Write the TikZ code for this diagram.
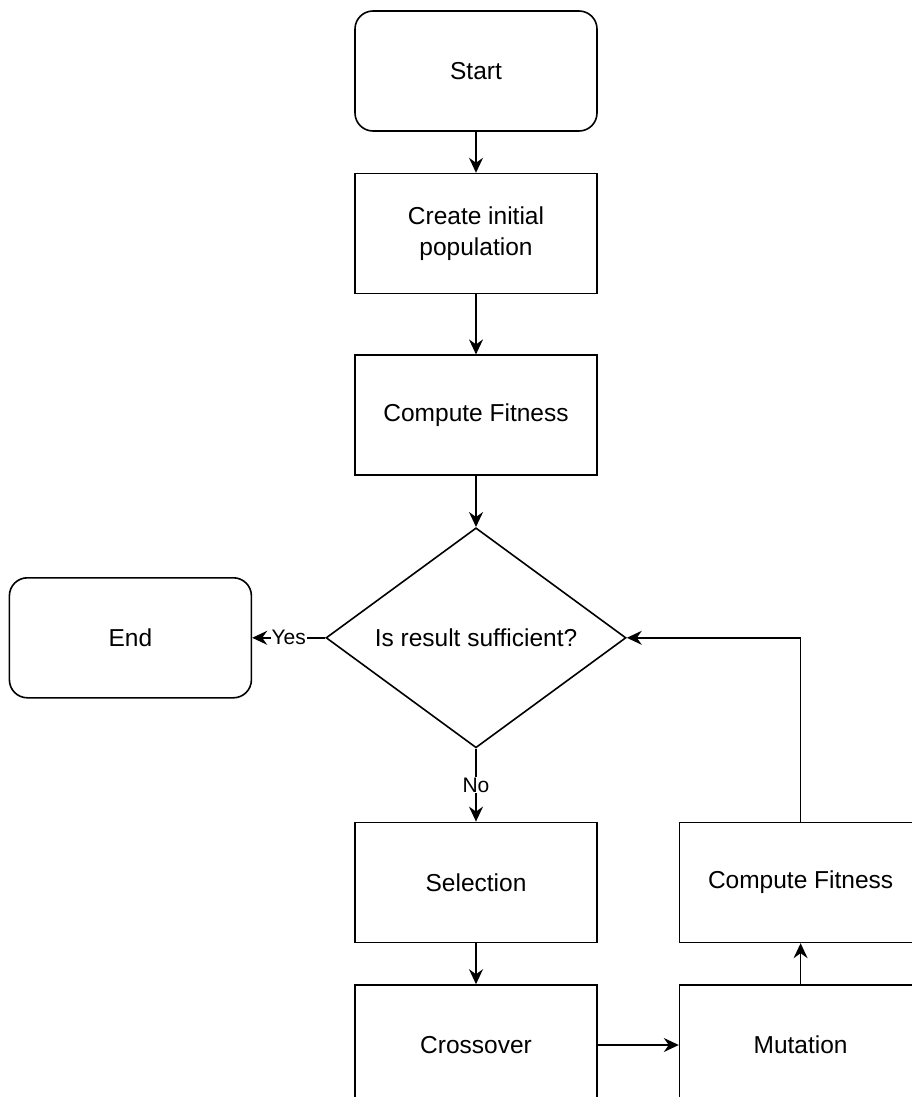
\documentclass[tikz,border=0pt]{standalone}
\usepackage{fontspec}
\setmainfont{Liberation Sans}
\usetikzlibrary{arrows.meta,positioning,shapes.geometric}

\begin{document}
\begin{tikzpicture}[
    x=1pt, y=-1pt,
    font=\fontsize{24.5}{31}\selectfont,
    node distance=41pt and 81pt,
    block/.style={draw, line width=1.6pt, align=center, minimum width=242pt, minimum height=120pt, inner sep=2pt},
    terminal/.style={block, rounded corners=18pt},
    decision/.style={draw, diamond, line width=1.6pt, inner sep=0pt, minimum width=300pt, minimum height=220pt},
    arrow/.style={-{Stealth[length=15pt, width=14pt, inset=5pt]}, line width=1.6pt},
    lbl/.style={fill=white, inner sep=1pt, font=\fontsize{21}{25}\selectfont}
]
\useasboundingbox (0,0) rectangle (911,1097);

% ---------- Main column ----------
\node[terminal] (start) at (476,71) {Start};
\node[block, below=of start] (init) {Create initial\\population};
\node[block, below=60pt of init] (fitness) {Compute Fitness};
\node[decision, below=51pt of fitness, label=center:{Is result sufficient?}] (check) {};
\node[terminal, left=73pt of check] (finish) {End};

% ---------- Loop body ----------
\node[block, below=73pt of check] (select) {Selection};
\node[block, below=of select] (cross) {Crossover};
\node[block, right=of cross] (mutate) {Mutation};
\node[block, above=of mutate] (refit) {Compute Fitness};

% ---------- Edges ----------
\draw[arrow] (start) -- (init);
\draw[arrow] (init) -- (fitness);
\draw[arrow] (fitness) -- (check);
\draw[arrow] (check) -- node[lbl] {Yes} (finish);
\draw[arrow] (check) -- node[lbl] {No} (select);
\draw[arrow] (select) -- (cross);
\draw[arrow] (cross) -- (mutate);
\draw[arrow] (mutate) -- (refit);

% back to the test
\draw[arrow] (refit.north) |- (check.east);

\end{tikzpicture}
\end{document}
